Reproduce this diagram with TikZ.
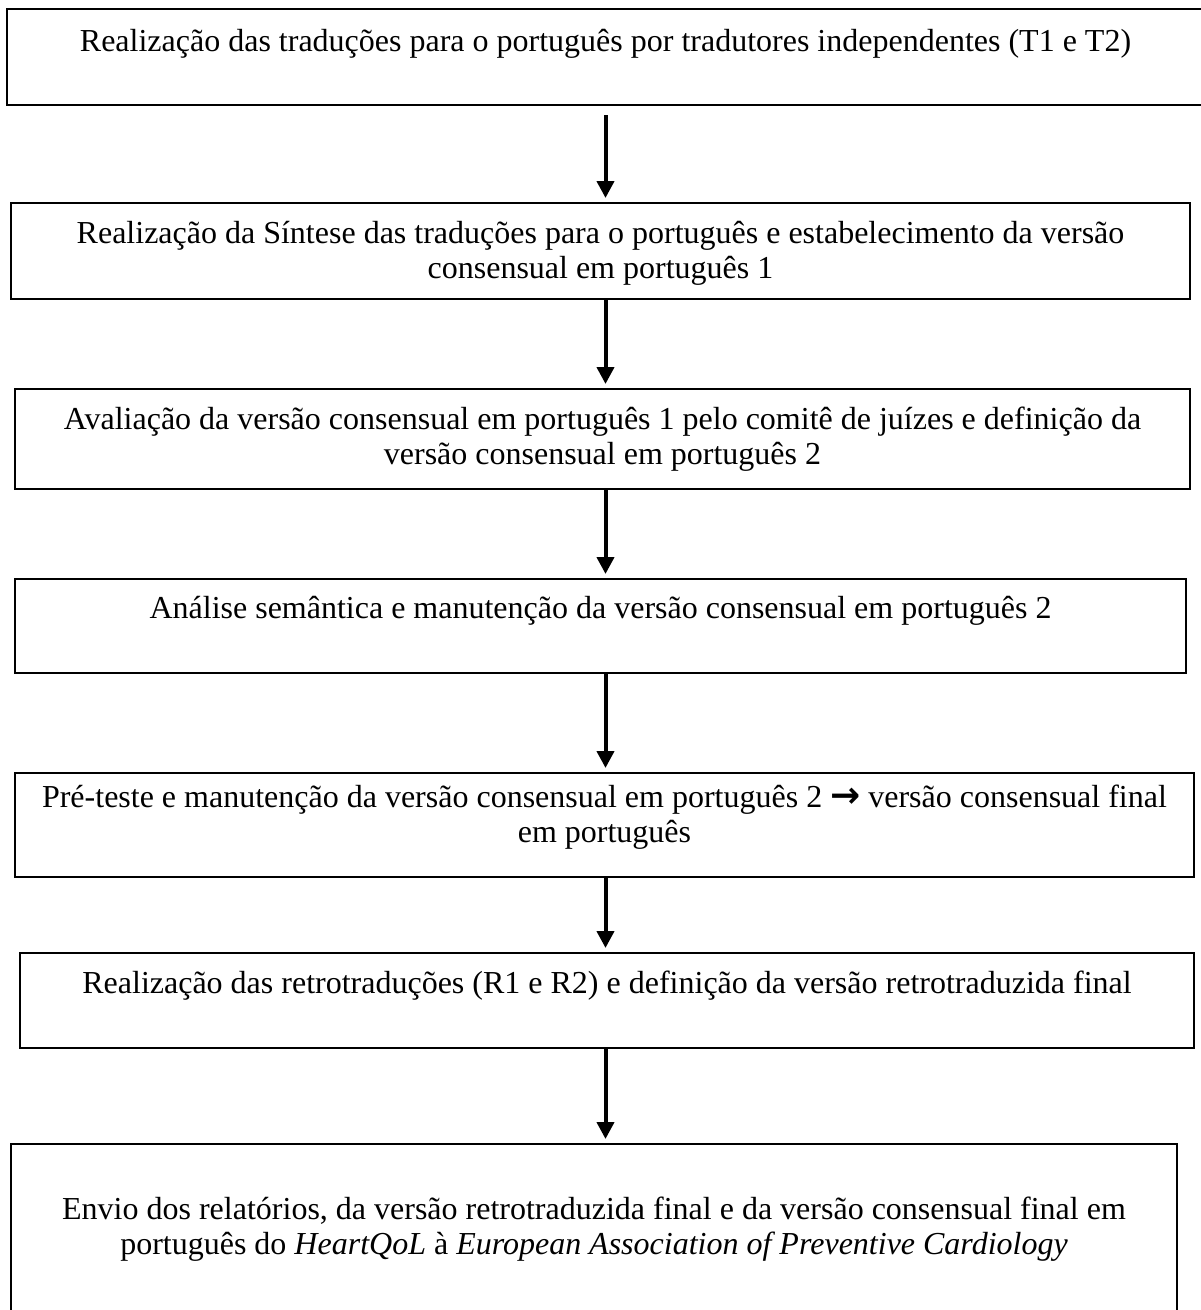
\documentclass[tikz,border=0pt]{standalone}
\usepackage{fontspec}
\setmainfont{Liberation Serif}
\newfontfamily\symbolfont{DejaVu Sans}
\usepackage{tikz}
\usetikzlibrary{positioning,calc,arrows.meta}

% text of a stage box: width, height, depth of first baseline, text
\newcommand{\stagetext}[4]{\parbox[c][#2pt][t]{#1pt}{\centering\rule{0pt}{#3pt}#4}}

\begin{document}
\begin{tikzpicture}[x=1pt, y=-1pt, every node/.style={font=\fontsize{32}{35}\selectfont},
    stage/.style={draw, line width=2pt, inner sep=0pt, anchor=north west},
    flow/.style={-{Triangle[width=17pt,length=17pt]}, line width=4pt, shorten >=4pt}]
  \useasboundingbox (0,0) rectangle (1201,1310);

  \node[stage] (s1) at (6,8) {\stagetext{1197}{96}{42}{Realização das traduções para o português por tradutores independentes (T1 e T2)}};
  \node[stage] (s2) at (10,202) {\stagetext{1179}{96}{40}{Realização da Síntese das traduções para o português e estabelecimento da versão\\consensual em português 1}};
  \node[stage] (s3) at (14,388) {\stagetext{1175}{100}{40}{Avaliação da versão consensual em português 1 pelo comitê de juízes e definição da\\versão consensual em português 2}};
  \node[stage] (s4) at (14,578) {\stagetext{1171}{94}{39}{Análise semântica e manutenção da versão consensual em português 2}};
  \node[stage] (s5) at (14,772) {\stagetext{1179}{104}{34}{Pré-teste e manutenção da versão consensual em português 2 {\symbolfont\bfseries\fontsize{36}{35}\selectfont →} versão consensual final\\em português}};
  \node[stage] (s6) at (19,952) {\stagetext{1174}{95}{40}{Realização das retrotraduções (R1 e R2) e definição da versão retrotraduzida final}};
  \node[stage] (s7) at (10,1143) {\stagetext{1166}{190}{75}{Envio dos relatórios, da versão retrotraduzida final e da versão consensual final em\\português do \textit{HeartQoL} à \textit{European Association of Preventive Cardiology}}};

  \draw[flow, shorten <=9pt] (s1) -- (s1 |- s2.north);
  \draw[flow] (s2.south -| s1) -- (s3.north -| s1);
  \draw[flow] (s3.south -| s1) -- (s4.north -| s1);
  \draw[flow] (s4.south -| s1) -- (s5.north -| s1);
  \draw[flow] (s5.south -| s1) -- (s6.north -| s1);
  \draw[flow] (s6.south -| s1) -- (s7.north -| s1);
\end{tikzpicture}
\end{document}
